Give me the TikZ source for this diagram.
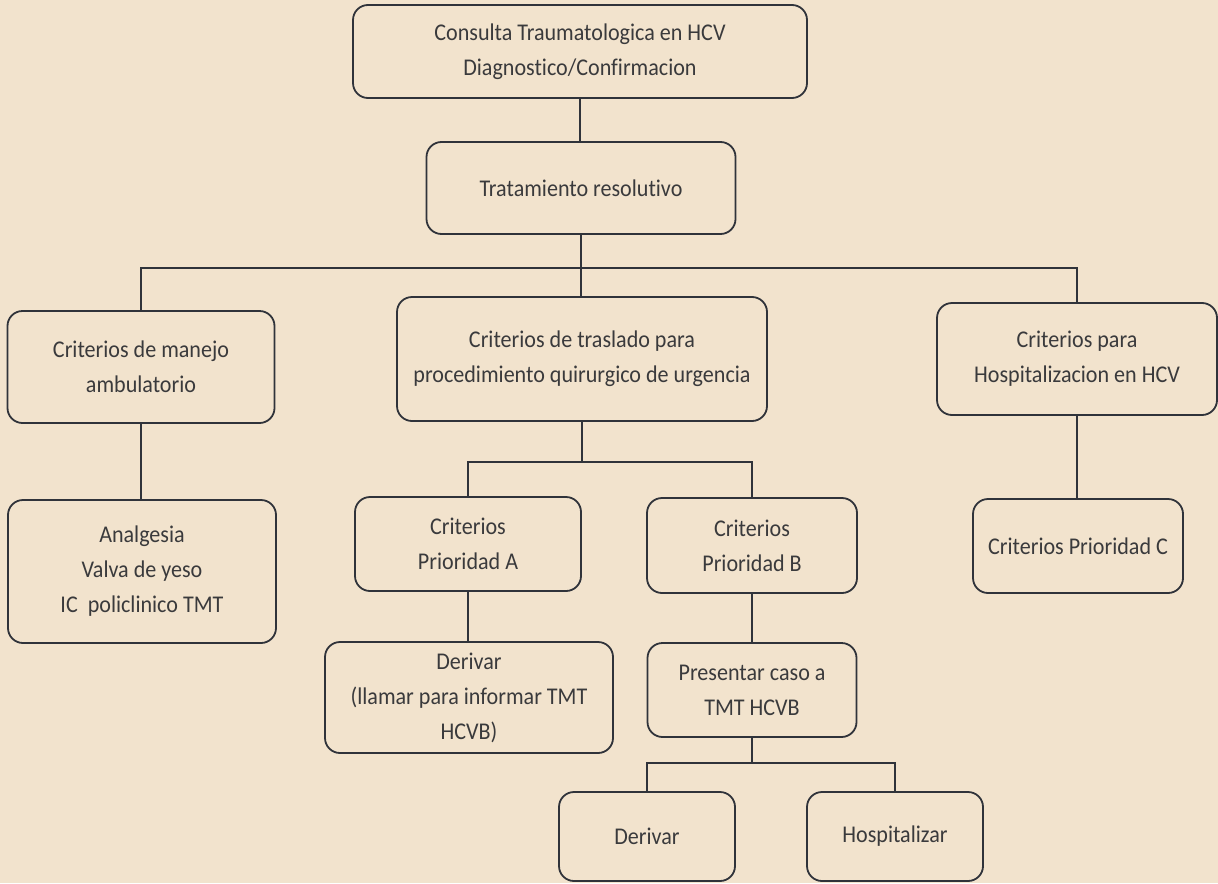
\documentclass[tikz,border=0pt]{standalone}
\usepackage{fontspec}
\setmainfont[RawFeature=-liga, FakeStretch=0.92]{Carlito}
\usepackage{xcolor}
\usepackage{tikz}
\usetikzlibrary{positioning}

\definecolor{paper}{RGB}{242,227,205}
\definecolor{inkline}{RGB}{48,51,58}
\definecolor{inktext}{RGB}{58,58,60}

\begin{document}
\begin{tikzpicture}[
    x=0.5pt, y=-0.5pt,
    font=\fontsize{12}{17.5}\selectfont,
    box/.style={rectangle, rounded corners=7.5pt, draw=inkline, align=center,
                text=inktext, line width=0.9pt, inner sep=2pt},
    link/.style={draw=inkline, line width=0.9pt},
]
\fill[paper] (0,0) rectangle (1218,883);
\useasboundingbox (0,0) rectangle (1218,883);

% level 1
\node[box, minimum width=227pt, minimum height=46.5pt] (consulta) at (580,51.5)
    {Consulta Traumatologica en HCV\\Diagnostico/Confirmacion};
\node[box, minimum width=154.5pt, minimum height=46pt] (trat) at (581,188)
    {Tratamiento resolutivo};

% level 2
\node[box, minimum width=133.5pt, minimum height=56pt] (amb) at (141,367)
    {Criterios de manejo\\ambulatorio};
\node[box, minimum width=185pt, minimum height=62pt] (tras) at (582,359)
    {Criterios de traslado para\\procedimiento quirurgico de urgencia};
\node[box, minimum width=140pt, minimum height=56pt] (hosp) at (1077,359)
    {Criterios para\\Hospitalizacion en HCV};

% level 3
\node[box, minimum width=134pt, minimum height=71.5pt] (analg) at (142,571.5)
    {Analgesia\\Valva de yeso\\IC~ policlinico TMT};
\node[box, minimum width=113pt, minimum height=47pt] (prioA) at (468,544)
    {Criterios\\Prioridad A};
\node[box, minimum width=105pt, minimum height=47.5pt] (prioB) at (752,545.5)
    {Criterios\\Prioridad B};
\node[box, minimum width=105pt, minimum height=47pt] (prioC) at (1078,546)
    {Criterios Prioridad C};

% level 4
\node[box, minimum width=144pt, minimum height=55.5pt] (derA) at (469,697.5)
    {Derivar\\(llamar para informar TMT\\HCVB)};
\node[box, minimum width=104.5pt, minimum height=47pt] (pres) at (752,690)
    {Presentar caso a\\TMT HCVB};

% level 5
\node[box, minimum width=88pt, minimum height=44.5pt] (deriv) at (647,836.5)
    {Derivar};
\node[box, minimum width=88pt, minimum height=44.5pt] (hospz) at (895,836.5)
    {Hospitalizar};

% bus points
\coordinate (bus1) at (581,268);
\coordinate (bus2) at (582,462);
\coordinate (bus3) at (752,763);

% connectors
\draw[link] (consulta.south) -- (consulta.south |- trat.north);
\draw[link] (trat.south) -- (trat.south |- tras.north);
\draw[link] (amb.north) |- (bus1) -| (hosp.north);
\draw[link] (amb.south) -- (amb.south |- analg.north);
\draw[link] (hosp.south) -- (hosp.south |- prioC.north);
\draw[link] (tras.south) -- (bus2);
\draw[link] (prioA.north) |- (bus2) -| (prioB.north);
\draw[link] (prioA.south) -- (prioA.south |- derA.north);
\draw[link] (prioB.south) -- (prioB.south |- pres.north);
\draw[link] (pres.south) -- (bus3);
\draw[link] (deriv.north) |- (bus3) -| (hospz.north);
\end{tikzpicture}
\end{document}
